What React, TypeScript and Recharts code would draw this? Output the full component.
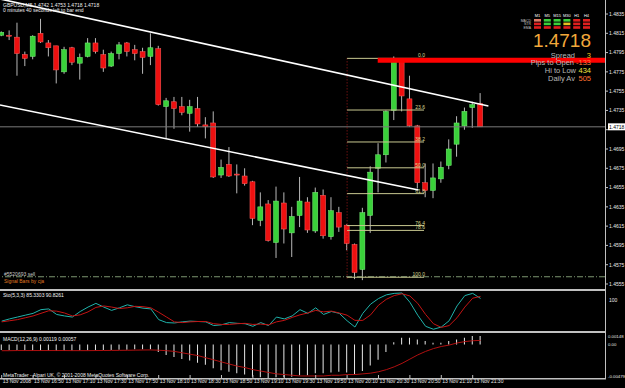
import React from 'react';
import { ComposedChart, Bar, Line, XAxis, YAxis, ReferenceLine } from 'recharts';

// GBPUSD M5, 13 Nov 2008, bars from 16:30 to 21:35
const opens = [
  1.4813, 1.4813, 1.4811, 1.4793, 1.4791, 1.4815, 1.4805, 1.4802, 1.4775, 1.48, 1.4784, 1.4791, 1.4805,
  1.4793, 1.4781, 1.4794, 1.4805, 1.4798, 1.4796, 1.4791, 1.4799, 1.4739, 1.4744, 1.4739, 1.4732, 1.4737,
  1.472, 1.4722, 1.4668, 1.4679, 1.4669, 1.4667, 1.4661, 1.4621, 1.4638, 1.4598, 1.4639, 1.4608, 1.4626,
  1.464, 1.461, 1.4647, 1.4604, 1.4629, 1.4616, 1.4596, 1.457, 1.4626, 1.4675, 1.4689, 1.4735, 1.4786,
  1.4747, 1.4719, 1.466, 1.4652, 1.4664, 1.4678, 1.47, 1.4719, 1.4738, 1.4742,
];
const highs = [
  1.4817, 1.4818, 1.4826, 1.4796, 1.4813, 1.483, 1.4808, 1.4802, 1.4801, 1.4801, 1.4794, 1.481, 1.481,
  1.4798, 1.4796, 1.4806, 1.4806, 1.4803, 1.48, 1.4815, 1.4802, 1.4748, 1.4749, 1.4749, 1.4746, 1.4749,
  1.4728, 1.4734, 1.4684, 1.4697, 1.4679, 1.4675, 1.4662, 1.465, 1.4642, 1.4656, 1.465, 1.4635, 1.4666,
  1.4645, 1.4655, 1.4653, 1.4645, 1.4635, 1.4617, 1.4597, 1.4634, 1.4677, 1.4701, 1.4735, 1.4791, 1.4787,
  1.4771, 1.472, 1.468, 1.468, 1.4682, 1.4705, 1.4729, 1.4738, 1.4744, 1.4753,
];
const lows = [
  1.4812, 1.4808, 1.4771, 1.4781, 1.4788, 1.4805, 1.4791, 1.4763, 1.4773, 1.4782, 1.4767, 1.479, 1.4794,
  1.4775, 1.478, 1.4788, 1.4791, 1.4787, 1.4773, 1.4782, 1.474, 1.4706, 1.4716, 1.473, 1.4713, 1.4718,
  1.4706, 1.4665, 1.4665, 1.4666, 1.4649, 1.4657, 1.4616, 1.4615, 1.4599, 1.4582, 1.4597, 1.4583, 1.4614,
  1.4608, 1.4608, 1.4602, 1.4601, 1.4609, 1.459, 1.456, 1.4559, 1.4608, 1.465, 1.4681, 1.4725, 1.4734,
  1.4718, 1.4654, 1.4645, 1.4644, 1.466, 1.4674, 1.4687, 1.4715, 1.4717, 1.4718,
];
const closes = [
  1.4816, 1.4812, 1.4794, 1.4789, 1.4812, 1.4806, 1.48, 1.4777, 1.4798, 1.4785, 1.479, 1.4805, 1.4796,
  1.4779, 1.4794, 1.4803, 1.4796, 1.4794, 1.479, 1.48, 1.4741, 1.4745, 1.4737, 1.4733, 1.4739, 1.4721,
  1.4718, 1.4666, 1.4676, 1.4667, 1.4668, 1.4659, 1.4623, 1.4635, 1.46, 1.4641, 1.4612, 1.4625, 1.4641,
  1.4611, 1.465, 1.4605, 1.4631, 1.4614, 1.4597, 1.4567, 1.4629, 1.4671, 1.4689, 1.4734, 1.4787, 1.475,
  1.4719, 1.466, 1.4652, 1.4665, 1.4676, 1.4695, 1.4722, 1.4734, 1.4741, 1.4718,
];

const stochK = [
  24, 30, 35, 40, 45, 55, 57, 42, 38, 35, 50, 62, 72, 62, 53, 60, 68, 63, 59, 57, 28, 20, 19, 22, 24, 23,
  22, 12, 14, 20, 18, 17, 10, 20, 12, 35, 30, 38, 55, 45, 60, 42, 50, 45, 25, 8, 45, 70, 85, 95, 99, 100,
  75, 40, 10, 2, 8, 25, 65, 93, 99, 85.33,
];
const stochD = [
  22, 25, 28, 33, 38, 45, 52, 51, 46, 38, 41, 49, 61, 65, 62, 58, 60, 64, 63, 60, 48, 35, 22, 20, 22, 23,
  23, 17, 15, 15, 17, 18, 15, 16, 14, 22, 26, 34, 41, 46, 53, 49, 51, 46, 40, 26, 26, 41, 67, 83, 93, 98,
  92, 72, 42, 17, 7, 12, 33, 62, 86, 90.83,
];

const macdMain = [
  -0.0008, -0.00082, -0.00085, -0.00088, -0.0009, -0.00088, -0.00086, -0.0009, -0.00092, -0.0009,
  -0.00088, -0.00085, -0.00082, -0.0008, -0.0008, -0.00078, -0.00075, -0.0007, -0.0007, -0.00068,
  -0.0011, -0.0015, -0.0018, -0.0021, -0.0023, -0.0026, -0.0029, -0.0034, -0.0037, -0.0039, -0.0041,
  -0.0043, -0.0046, -0.0047, -0.0048, -0.0047, -0.0047, -0.0046, -0.0044, -0.0044, -0.0041, -0.0041,
  -0.004, -0.0039, -0.004, -0.0043, -0.0038, -0.003, -0.0022, -0.0011, 0.0003, 0.00095, 0.00095,
  0.0007, 0.00047, 0.00024, 0.00024, 0.00047, 0.0007, 0.00095, 0.0012, 0.00119,
];
const macdSignal = [
  -0.0009, -0.0009, -0.00088, -0.00088, -0.00088, -0.00088, -0.00088, -0.00088, -0.00088, -0.00089,
  -0.00089, -0.00089, -0.00088, -0.00087, -0.00086, -0.00085, -0.00084, -0.00082, -0.0008, -0.00079,
  -0.00083, -0.0009, -0.001, -0.0012, -0.0014, -0.0016, -0.0019, -0.0022, -0.0025, -0.0028, -0.0031,
  -0.0033, -0.0036, -0.0038, -0.004, -0.0042, -0.0043, -0.0044, -0.0045, -0.0045, -0.0045, -0.0045,
  -0.0044, -0.0044, -0.0043, -0.0043, -0.0042, -0.0041, -0.0039, -0.0036, -0.0032, -0.0027, -0.0021,
  -0.0015, -0.001, -0.0006, -0.0003, -0.0001, 0.0002, 0.0004, 0.00052, 0.00057,
];

const priceTicks = [
  1.4555, 1.4575, 1.4595, 1.4615, 1.4635, 1.4655, 1.4675, 1.4695, 1.4715, 1.4735, 1.4755, 1.4775,
  1.4795, 1.4815, 1.4835,
];
const timeTicks = [0, 4, 8, 12, 16, 20, 24, 28, 32, 36, 40, 44, 48, 52, 56, 60];
const timeLabels = [
  '13 Nov 2008', '13 Nov 16:50', '13 Nov 17:10', '13 Nov 17:30', '13 Nov 17:50', '13 Nov 18:10',
  '13 Nov 18:30', '13 Nov 18:50', '13 Nov 19:10', '13 Nov 19:30', '13 Nov 19:50', '13 Nov 20:10',
  '13 Nov 20:30', '13 Nov 20:50', '13 Nov 21:10', '13 Nov 21:30',
];

// fibonacci drawn from the 20:10 low to the 20:40 high
const fibLevels = [0, 23.6, 38.2, 50, 61.8, 76.4, 78.6, 100];
const fibHigh = 1.4789;
const fibLow = 1.4562;
const fibFrom = 44;
const fibTo = 53.8;

const upperChannel = [
  { i: -0.22, p: 1.48506 },
  { i: 62, p: 1.47396 },
];
const lowerChannel = [
  { i: -0.22, p: 1.47406 },
  { i: 53.1, p: 1.46525 },
];
const bid = 1.4718;
const openLine = { from: 47.9, p: 1.4787 };
const sellLevel = 1.45625;

const tfNames = ['M1', 'M5', 'M15', 'M30', 'H1', 'H4'];
const trendRows = [
  { name: 'MACD', cells: ['#e07a66', '#3bd03b', '#3bd03b', '#3bd03b', '#e01e1e', '#e01e1e'] },
  { name: 'STR', cells: ['#e01e1e', '#3bd03b', '#3bd03b', '#e8c020', '#e01e1e', '#e01e1e'] },
  { name: 'EMA', cells: ['#e01e1e', '#e01e1e', '#e01e1e', '#e01e1e', '#e01e1e', '#e01e1e'] },
];

const bars = opens.map((o, i) => ({
  i,
  open: o,
  high: highs[i],
  low: lows[i],
  close: closes[i],
  k: stochK[i],
  d: stochD[i],
  macd: macdMain[i],
  signal: macdSignal[i],
}));

const X_DOMAIN: [number, number] = [-0.2166, 76.854];
const FONT = '"Liberation Sans", Arial, sans-serif';
const GRID = '#c0c0c0';

const Candle = (props: any) => {
  const { x, y, width, height, payload } = props;
  if (!payload) return null;
  const { open, close, high, low } = payload;
  const top = height < 0 ? y + height : y;
  const h = Math.abs(height);
  const ratio = high > low ? h / (high - low) : 0;
  const cx = x + width / 2;
  const up = close >= open;
  const bodyTop = top + (high - Math.max(open, close)) * ratio;
  const bodyH = Math.max(1, Math.abs(open - close) * ratio);
  const fill = up ? '#3ad13a' : '#ee1010';
  return (
    <g>
      <line x1={cx} x2={cx} y1={top} y2={top + h} stroke="#b8b8b8" strokeWidth={1} />
      <rect x={x} y={bodyTop} width={width} height={bodyH} fill={fill} stroke={up ? '#7cf07c' : '#ff6060'} strokeWidth={0.5} />
    </g>
  );
};

const PriceTick = ({ x, y, payload }: any) => (
  <g>
    <line x1={x - 4} x2={x - 1} y1={y} y2={y} stroke={GRID} />
    {/* the bid tag covers the label nearest the current price */}
    {Math.abs(payload.value - bid) > 0.0008 && (
      <text x={x} y={y + 1.8} fontSize={5} fill="#e8e8e8" fontFamily={FONT}>
        {payload.value.toFixed(4)}
      </text>
    )}
  </g>
);

const StochTick = ({ x, y, payload }: any) => (
  <text x={x} y={y + 1.8} fontSize={5} fill="#e8e8e8" fontFamily={FONT}>
    {payload.value}
  </text>
);

const MacdTick = ({ x, y, payload }: any) => {
  const v = payload.value;
  const label = v === 0 ? '0.00' : v.toFixed(5);
  const dy = v > 0 ? 3.5 : v < 0 ? -0.5 : 2;
  return (
    <text x={x - 1} y={y + dy} fontSize={4.3} fill="#e8e8e8" fontFamily={FONT}>
      {label}
    </text>
  );
};

const TimeTick = ({ x, y, payload }: any) => {
  const idx = timeTicks.indexOf(payload.value);
  return (
    <g>
      <line x1={x} x2={x} y1={y - 3} y2={y} stroke={GRID} />
      <text x={x + 1} y={y + 5} fontSize={5} fill="#e8e8e8" fontFamily={FONT}>
        {timeLabels[idx]}
      </text>
    </g>
  );
};

const FibLabel = ({ viewBox, value }: any) => (
  <text x={viewBox.x + viewBox.width + 1} y={viewBox.y - 1} fontSize={5} fill="#d8d890" textAnchor="end" fontFamily={FONT}>
    {value}
  </text>
);

const BidTag = ({ viewBox }: any) => (
  <g>
    <rect x={viewBox.x + viewBox.width + 3} y={viewBox.y - 3.5} width={17} height={7} fill="#ffffff" />
    <text x={viewBox.x + viewBox.width + 4} y={viewBox.y + 2} fontSize={5} fill="#000000" fontFamily={FONT}>
      {bid.toFixed(4)}
    </text>
  </g>
);

const InfoPanel = () => (
  <g fontFamily={FONT}>
    {tfNames.map((t, c) => (
      <text key={t} x={537.5 + c * 9.8} y={17} fontSize={4} fill="#ffffff" textAnchor="middle">
        {t}
      </text>
    ))}
    {trendRows.map((row, r) => (
      <g key={row.name}>
        <text x={531} y={21.5 + r * 3.6} fontSize={3.5} fill="#c0c0c0" textAnchor="end">
          {row.name}
        </text>
        {row.cells.map((col, c) => (
          <rect key={c} x={534 + c * 9.8} y={19 + r * 3.6} width={7} height={2.6} fill={col} />
        ))}
      </g>
    ))}
    <text x={591} y={47} fontSize={19} fill="#f2a93b" textAnchor="end">
      {bid.toFixed(4)}
    </text>
    <text x={575} y={57.5} fontSize={7.5} fill="#b8b8b8" textAnchor="end">Spread</text>
    <text x={591} y={57.5} fontSize={7.5} fill="#f0c020" textAnchor="end">3</text>
    <text x={574} y={65} fontSize={7.5} fill="#b8b8b8" textAnchor="end">Pips to Open</text>
    <text x={591} y={65} fontSize={7.5} fill="#ff7a3a" textAnchor="end">-133</text>
    <text x={576} y={72.8} fontSize={7.5} fill="#b8b8b8" textAnchor="end">Hi to Low</text>
    <text x={591} y={72.8} fontSize={7.5} fill="#f0e040" textAnchor="end">434</text>
    <text x={575} y={80.5} fontSize={7.5} fill="#b8b8b8" textAnchor="end">Daily Av</text>
    <text x={591} y={80.5} fontSize={7.5} fill="#ff7030" textAnchor="end">505</text>
  </g>
);

export default function App() {
  return (
    <div style={{ position: 'absolute', left: 0, top: 0, width: 625, height: 388, background: '#000000', overflow: 'hidden' }}>
      <div style={{ position: 'absolute', left: 0, top: 0 }}>
        <ComposedChart width={625} height={289} data={bars} margin={{ top: 1, right: 0, bottom: 0, left: 0 }}>
          <XAxis type="number" dataKey="i" domain={X_DOMAIN} hide allowDataOverflow />
          <YAxis
            orientation="right"
            width={20}
            domain={[1.45498, 1.48485]}
            ticks={priceTicks}
            allowDataOverflow
            axisLine={false}
            tickLine={false}
            tickSize={3}
            tickMargin={1}
            tick={<PriceTick />}
            interval={0}
          />
          <ReferenceLine y={bid} stroke="#7a7a7a" label={<BidTag />} />
          <ReferenceLine y={sellLevel} stroke="#7d9670" strokeDasharray="6 2 1 2" />
          <ReferenceLine
            segment={[{ x: fibFrom, y: fibHigh }, { x: fibFrom, y: fibLow - 0.0003 }]}
            stroke="#a01818"
            strokeDasharray="1 2"
          />
          {fibLevels.map((lv) => (
            <ReferenceLine
              key={lv}
              segment={[
                { x: fibFrom, y: fibHigh - ((fibHigh - fibLow) * lv) / 100 },
                { x: fibTo, y: fibHigh - ((fibHigh - fibLow) * lv) / 100 },
              ]}
              stroke="#c8c890"
              label={<FibLabel value={lv.toFixed(1)} />}
            />
          ))}
          <Bar
            dataKey={(d: any) => [d.low, d.high]}
            barSize={5}
            shape={<Candle />}
            isAnimationActive={false}
          />
          <ReferenceLine
            segment={[{ x: openLine.from, y: openLine.p }, { x: X_DOMAIN[1], y: openLine.p }]}
            stroke="#ff0000"
            strokeWidth={5}
          />
          <ReferenceLine
            segment={upperChannel.map((q) => ({ x: q.i, y: q.p }))}
            stroke="#ffffff"
            strokeWidth={1.6}
            ifOverflow="visible"
          />
          <ReferenceLine
            segment={lowerChannel.map((q) => ({ x: q.i, y: q.p }))}
            stroke="#ffffff"
            strokeWidth={1.6}
            ifOverflow="visible"
          />
        </ComposedChart>
      </div>

      <div style={{ position: 'absolute', left: 0, top: 291 }}>
        <ComposedChart width={625} height={40} data={bars} margin={{ top: 2, right: 0, bottom: 1, left: 0 }}>
          <XAxis type="number" dataKey="i" domain={X_DOMAIN} hide allowDataOverflow />
          <YAxis
            orientation="right"
            width={20}
            domain={[0, 100]}
            ticks={[0, 100]}
            axisLine={false}
            tickLine={false}
            tickSize={3}
            tickMargin={1}
            tick={<StochTick />}
          />
          <Line dataKey="k" stroke="#20b2aa" strokeWidth={1} dot={false} isAnimationActive={false} />
          <Line dataKey="d" stroke="#c41414" strokeWidth={1} dot={false} isAnimationActive={false} />
        </ComposedChart>
      </div>

      <div style={{ position: 'absolute', left: 0, top: 333 }}>
        <ComposedChart width={625} height={55} data={bars} margin={{ top: 1, right: 0, bottom: 0, left: 0 }}>
          <XAxis
            type="number"
            dataKey="i"
            domain={X_DOMAIN}
            allowDataOverflow
            ticks={timeTicks}
            interval={0}
            height={10}
            axisLine={false}
            tickLine={false}
            tickSize={0}
            tickMargin={0}
            tick={<TimeTick />}
          />
          <YAxis
            orientation="right"
            width={20}
            domain={[-0.00479, 0.00148]}
            ticks={[-0.00479, 0, 0.00148]}
            allowDataOverflow
            axisLine={false}
            tickLine={false}
            tickSize={3}
            tickMargin={1}
            tick={<MacdTick />}
            interval={0}
          />
          <Bar dataKey="macd" fill="#e8e8e8" barSize={1} isAnimationActive={false} />
          <Line dataKey="signal" stroke="#b01010" strokeWidth={1} dot={false} isAnimationActive={false} />
        </ComposedChart>
      </div>

      <svg width={625} height={388} style={{ position: 'absolute', left: 0, top: 0, pointerEvents: 'none' }}>
        <rect x={0} y={289} width={606} height={2} fill={GRID} />
        <rect x={0} y={331} width={606} height={2} fill={GRID} />
        <rect x={0} y={378} width={606} height={1.5} fill={GRID} />
        <line x1={605.5} x2={605.5} y1={0} y2={379} stroke={GRID} />
        <g fontFamily={FONT} fontSize={5} fill="#f0f0f0">
          <text x={3} y={7}>GBPUSD,M5  1.4742 1.4753 1.4718 1.4718</text>
          <text x={3} y={11.8}>0 minutes 40 seconds left to bar end</text>
          <text x={4} y={275.5} fill="#c8c8c8">#5520693 sell</text>
          <text x={4} y={282.5} fill="#e07a20">Signal Bars by cja</text>
          <text x={3} y={297}>Sto(5,3,3) 85.3303 90.8261</text>
          <text x={3} y={340.5}>MACD(12,26,9) 0.00119 0.00057</text>
          <text x={3} y={376.8}>MetaTrader - Alpari UK, © 2001-2008 MetaQuotes Software Corp.</text>
        </g>
        <InfoPanel />
      </svg>
    </div>
  );
}
